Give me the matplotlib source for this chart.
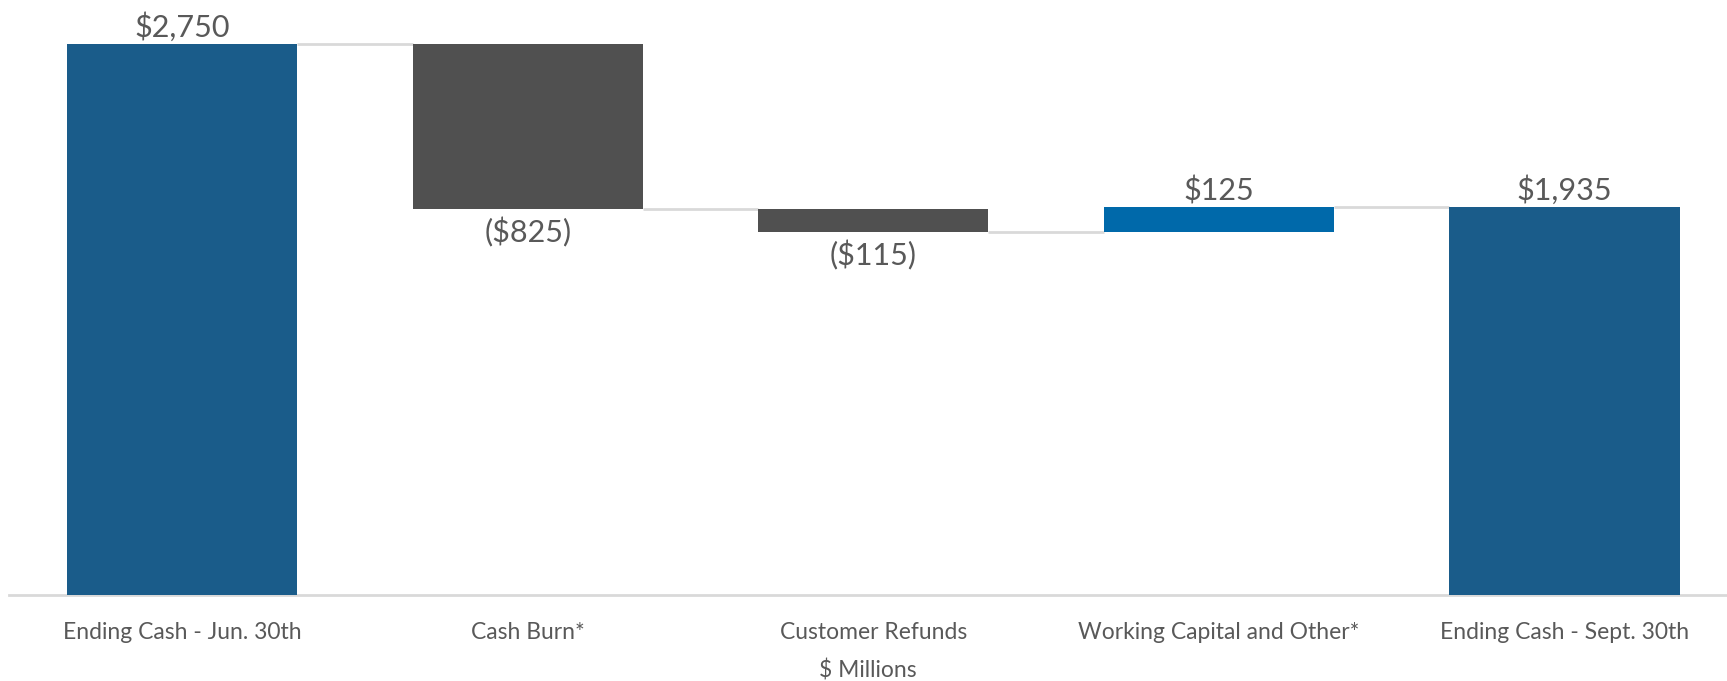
import matplotlib
matplotlib.use("Agg")
import matplotlib.pyplot as plt
import numpy as np

# waterfall data ($ millions)
categories = ["Ending Cash - Jun. 30th", "Cash Burn*", "Customer Refunds",
              "Working Capital and Other*", "Ending Cash - Sept. 30th"]
values = [2750, -825, -115, 125, 1935]
is_total = [True, False, False, False, True]
labels = ["$2,750", "($825)", "($115)", "$125", "$1,935"]

c_total = "#1A5C8A"
c_neg = "#505050"
c_pos = "#0069AA"
c_text = "#595959"
c_line = "#D9D9D9"

plt.rcParams['font.family'] = ['Lato', 'DejaVu Sans']

fig = plt.figure(figsize=(17.27, 6.81), dpi=100)
ax = fig.add_axes([0.005, 0.126, 0.995, 0.874])

x = np.arange(len(categories))
width = 0.666

bottoms, heights, colors = [], [], []
running = 0
for v, tot in zip(values, is_total):
    if tot:
        bottoms.append(0)
        heights.append(v)
        colors.append(c_total)
        running = v
    else:
        if v < 0:
            bottoms.append(running + v)
            colors.append(c_neg)
        else:
            bottoms.append(running)
            colors.append(c_pos)
        heights.append(abs(v))
        running += v

ax.bar(x, heights, width=width, bottom=bottoms, color=colors, zorder=3)

# connector lines between bars
levels = []
running = 0
for v, tot in zip(values, is_total):
    running = v if tot else running + v
    levels.append(running)
for i in range(len(x) - 1):
    ax.plot([x[i] + width / 2, x[i + 1] - width / 2], [levels[i], levels[i]],
            color=c_line, lw=2, zorder=2, solid_capstyle='butt')

# value labels
for i, (v, tot) in enumerate(zip(values, is_total)):
    top = bottoms[i] + heights[i]
    if v >= 0:
        ax.text(x[i], top + 12, labels[i], ha='center', va='bottom',
                fontsize=22, color=c_text)
    else:
        ax.text(x[i], bottoms[i] - 40, labels[i], ha='center', va='top',
                fontsize=22, color=c_text)

ax.set_xlim(-0.502, 4.47)
ax.set_ylim(0, 2970)
ax.set_yticks([])
ax.set_xticks(x)
ax.set_xticklabels(categories, fontsize=16.5, color=c_text)
ax.tick_params(axis='x', length=0, pad=19)
for s in ['top', 'right', 'left']:
    ax.spines[s].set_visible(False)
ax.spines['bottom'].set_color(c_line)
ax.spines['bottom'].set_linewidth(2)
ax.set_xlabel("$ Millions", fontsize=16.5, color=c_text, labelpad=12)

fig.savefig("out.png", dpi=100)
